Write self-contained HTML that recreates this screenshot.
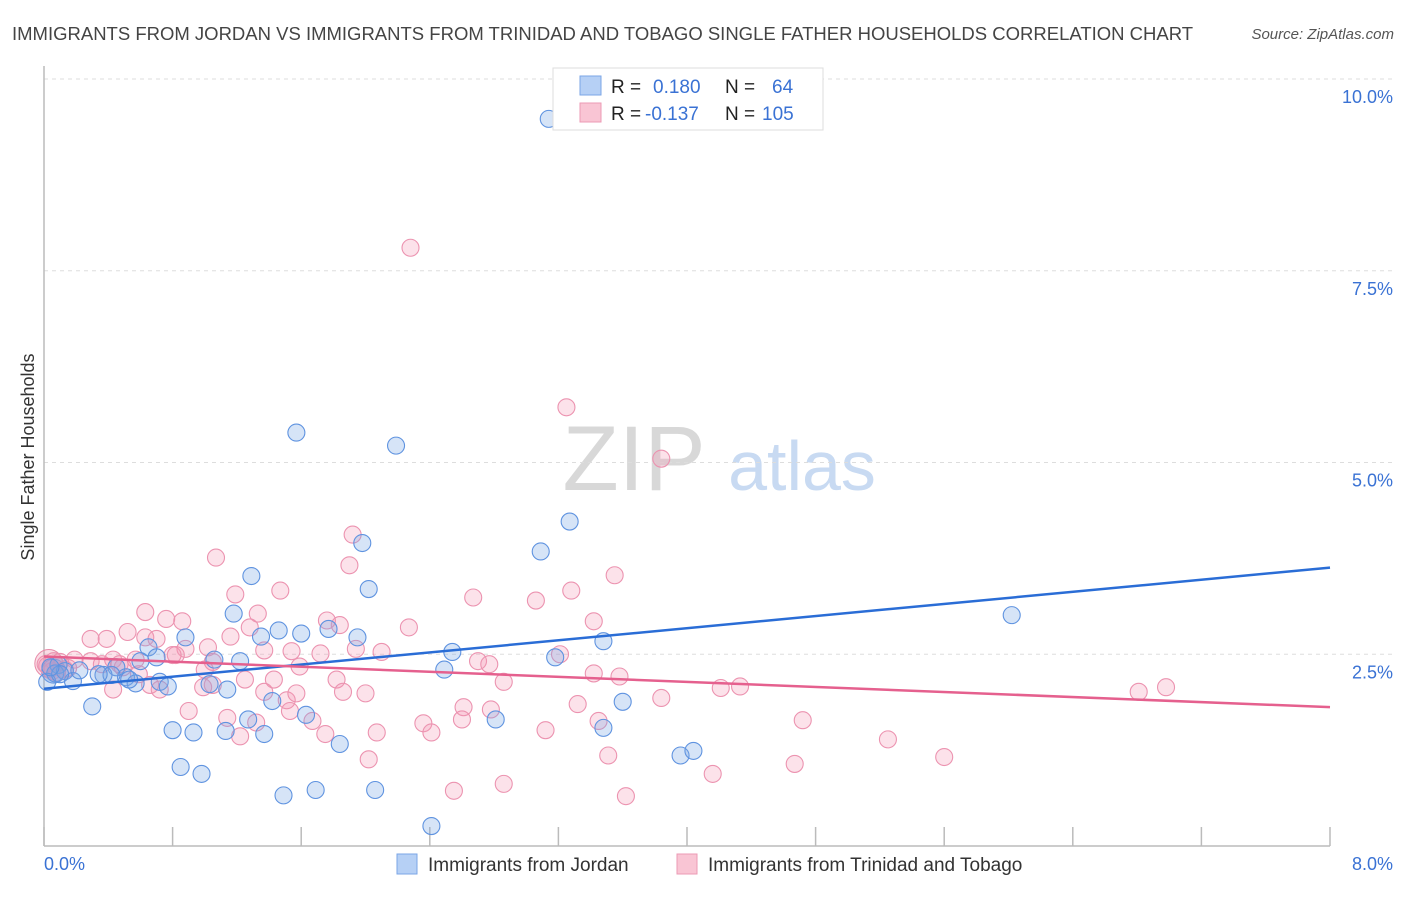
<!DOCTYPE html>
<html><head><meta charset="utf-8">
<style>
body{margin:0;background:#fff;font-family:"Liberation Sans",sans-serif;}
svg text{font-family:"Liberation Sans",sans-serif;}
</style></head>
<body>
<svg id="chart" width="1406" height="892" xmlns="http://www.w3.org/2000/svg">
<text x="12" y="40" font-size="18.5" fill="#444">IMMIGRANTS FROM JORDAN VS IMMIGRANTS FROM TRINIDAD AND TOBAGO SINGLE FATHER HOUSEHOLDS CORRELATION CHART</text>
<text x="1394" y="39" font-size="15" fill="#555" font-style="italic" text-anchor="end">Source: ZipAtlas.com</text>
<g>
<text x="634" y="490" font-size="92" fill="#d8d8d8" font-family="Liberation Serif, serif" text-anchor="middle">ZIP</text>
<text x="802" y="490" font-size="70" fill="#c8daf2" text-anchor="middle">atlas</text>
</g>
<g id="grid"></g>
<g id="axes"></g>
<g id="marks"></g>
<g id="lines"></g>
<text transform="translate(34,457) rotate(-90)" font-size="18" fill="#333" text-anchor="middle">Single Father Households</text>
<g>
<rect x="553" y="68" width="270" height="62" fill="#fff" stroke="#ddd"/>
<rect x="580" y="76" width="21" height="19" fill="#b6d0f5" stroke="#7ba6e6"/>
<rect x="580" y="103" width="21" height="19" fill="#f9c5d4" stroke="#ec9ab4"/>
<text x="611" y="93" font-size="19" fill="#222">R =</text>
<text x="653" y="93" font-size="19" fill="#3a72d4">0.180</text>
<text x="725" y="93" font-size="19" fill="#222">N =</text>
<text x="772" y="93" font-size="19" fill="#3a72d4">64</text>
<text x="611" y="120" font-size="19" fill="#222">R =</text>
<text x="645" y="120" font-size="19" fill="#3a72d4">-0.137</text>
<text x="725" y="120" font-size="19" fill="#222">N =</text>
<text x="762" y="120" font-size="19" fill="#3a72d4">105</text>
</g>
<g>
<rect x="397" y="854" width="20" height="20" fill="#b6d0f5" stroke="#7ba6e6"/>
<text x="428" y="871" font-size="19" fill="#333">Immigrants from Jordan</text>
<rect x="677" y="854" width="20" height="20" fill="#f9c5d4" stroke="#ec9ab4"/>
<text x="708" y="871" font-size="19" fill="#333">Immigrants from Trinidad and Tobago</text>
</g>
</svg>
<script>
const xTickLabels = ["0.0%","8.0%"];
const yTickValues = [2.5,5.0,7.5,10.0];
const yTickLabels = ["2.5%","5.0%","7.5%","10.0%"];
const jordanX = [3.14,1.57,2.19,3.27,3.09,1.98,1.29,2.02,1.18,6.02,1.77,1.46,1.60,1.95,1.35,0.88,3.48,0.65,2.54,3.18,1.06,1.22,0.70,0.60,0.45,0.51,0.37,0.09,0.07,0.13,0.18,0.02,0.57,0.72,0.77,1.03,1.14,2.49,1.42,3.60,0.30,1.63,1.27,2.81,3.48,0.80,0.93,1.13,1.37,1.84,3.96,4.04,0.85,0.98,1.49,1.69,2.06,2.41,0.10,0.42,0.22,0.04,0.53,0.34];
const jordanY = [9.48,5.39,5.22,4.23,3.84,3.95,3.52,3.35,3.03,3.01,2.83,2.81,2.77,2.72,2.73,2.72,2.67,2.59,2.53,2.46,2.43,2.41,2.46,2.41,2.33,2.20,2.23,2.36,2.25,2.28,2.15,2.14,2.12,2.14,2.08,2.11,2.04,2.30,1.89,1.88,1.82,1.71,1.65,1.65,1.54,1.51,1.48,1.50,1.46,1.33,1.18,1.24,1.03,0.94,0.66,0.73,0.73,0.26,2.24,2.23,2.29,2.33,2.17,2.24];
const trinX = [2.28,3.25,3.84,1.92,1.07,1.90,3.55,3.28,1.47,1.19,2.67,3.06,0.63,1.33,0.76,0.86,3.42,1.76,2.27,1.84,0.52,0.39,0.63,0.70,1.28,1.16,1.02,0.88,0.82,1.94,2.10,1.72,1.37,1.54,3.21,2.70,2.77,3.42,3.58,1.59,1.05,1.00,0.49,0.59,0.19,0.29,0.06,0.01,0.36,0.43,0.13,2.86,1.82,1.25,1.43,0.66,0.72,0.43,4.21,4.33,6.81,6.98,3.84,3.32,1.86,2.00,1.51,1.57,2.61,2.78,2.60,2.36,2.41,3.12,3.45,1.53,0.90,1.14,1.32,1.67,1.75,1.22,2.07,4.72,5.25,5.60,4.67,4.16,3.51,2.02,2.55,2.86,3.62,1.05,0.99,1.37,0.29,0.80,0.57,0.47,0.02,0.10,0.05,0.15,0.08];
const trinY = [7.80,5.72,5.05,4.06,3.76,3.66,3.53,3.33,3.33,3.28,3.24,3.20,3.05,3.03,2.96,2.93,2.93,2.94,2.85,2.88,2.79,2.70,2.72,2.70,2.85,2.73,2.59,2.57,2.49,2.57,2.53,2.51,2.55,2.54,2.50,2.41,2.37,2.25,2.21,2.34,2.40,2.30,2.33,2.24,2.43,2.41,2.41,2.37,2.37,2.43,2.30,2.14,2.17,2.17,2.17,2.10,2.04,2.04,2.06,2.08,2.01,2.07,1.93,1.85,2.01,1.99,1.90,1.99,1.81,1.78,1.65,1.60,1.48,1.51,1.63,1.76,1.76,1.67,1.61,1.63,1.46,1.43,1.48,1.64,1.39,1.16,1.07,0.94,1.18,1.13,0.72,0.81,0.65,2.10,2.07,2.01,2.70,2.49,2.43,2.37,2.35,2.40,2.28,2.32,2.26];
const jordanTrend = [2.05,3.63];
const trinTrend = [2.47,1.81];

const X0=44,X1=1330,XMAX=8,Y0=846,PXPER=76.7;
const sx=v=>X0+(v/XMAX)*(X1-X0);
const sy=v=>Y0-v*PXPER;
const NS="http://www.w3.org/2000/svg";
function mk(tag,attrs,parent){const e=document.createElementNS(NS,tag);for(const k in attrs)e.setAttribute(k,attrs[k]);parent.appendChild(e);return e;}
const grid=document.getElementById('grid'),axes=document.getElementById('axes'),marks=document.getElementById('marks'),lines=document.getElementById('lines');
mk('line',{x1:X0,x2:1393,y1:79,y2:79,stroke:'#ddd','stroke-dasharray':'4,4'},grid);
yTickValues.forEach((v,i)=>{
  const gl=mk('line',{x1:X0,x2:1393,y1:sy(v),y2:sy(v),stroke:'#ddd','stroke-dasharray':'4,4'},grid);
  
  
  const t=mk('text',{x:1393,y:sy(v)+24,'font-size':18,fill:'#3a72d4','text-anchor':'end'},axes);
  t.textContent=yTickLabels[i];
  
  
});
mk('line',{x1:X0,x2:X0,y1:66,y2:Y0,stroke:'#bbb','stroke-width':1.5},axes);
mk('line',{x1:X0,x2:X1,y1:Y0,y2:Y0,stroke:'#bbb','stroke-width':1.5},axes);
for(let i=0;i<=10;i++){
  const x=sx(i*0.8);
  const tk=mk('line',{x1:x,x2:x,y1:Y0-19,y2:Y0,stroke:'#bbb','stroke-width':1.5},axes);
  
  
}
const xl0=mk('text',{x:44,y:870,'font-size':18,fill:'#3a72d4'},axes);xl0.textContent=xTickLabels[0];


const xl1=mk('text',{x:1393,y:870,'font-size':18,fill:'#3a72d4','text-anchor':'end'},axes);xl1.textContent=xTickLabels[1];



// big edge markers
const b1=mk('circle',{cx:sx(0.03),cy:sy(2.38),r:14,fill:'rgba(240,140,170,0.3)',stroke:'#e88aa8','stroke-width':1},marks);


const b2=mk('circle',{cx:sx(0.06),cy:sy(2.28),r:12,fill:'rgba(110,150,220,0.35)',stroke:'#5b8fe0','stroke-width':1},marks);



trinX.forEach((v,i)=>{
  const c=mk('circle',{cx:sx(v),cy:sy(trinY[i]),r:8.5,fill:'rgba(245,150,180,0.28)',stroke:'#ec93b0','stroke-width':1.1},marks);
  
  
});
jordanX.forEach((v,i)=>{
  const c=mk('circle',{cx:sx(v),cy:sy(jordanY[i]),r:8.5,fill:'rgba(120,165,230,0.3)',stroke:'#5f93e0','stroke-width':1.1},marks);
  
  
});
const lj=mk('line',{x1:sx(0),y1:sy(jordanTrend[0]),x2:sx(8),y2:sy(jordanTrend[1]),stroke:'#2a6dd6','stroke-width':2.5},lines);


const lt=mk('line',{x1:sx(0),y1:sy(trinTrend[0]),x2:sx(8),y2:sy(trinTrend[1]),stroke:'#e5608e','stroke-width':2.5},lines);


</script>
</body></html>
